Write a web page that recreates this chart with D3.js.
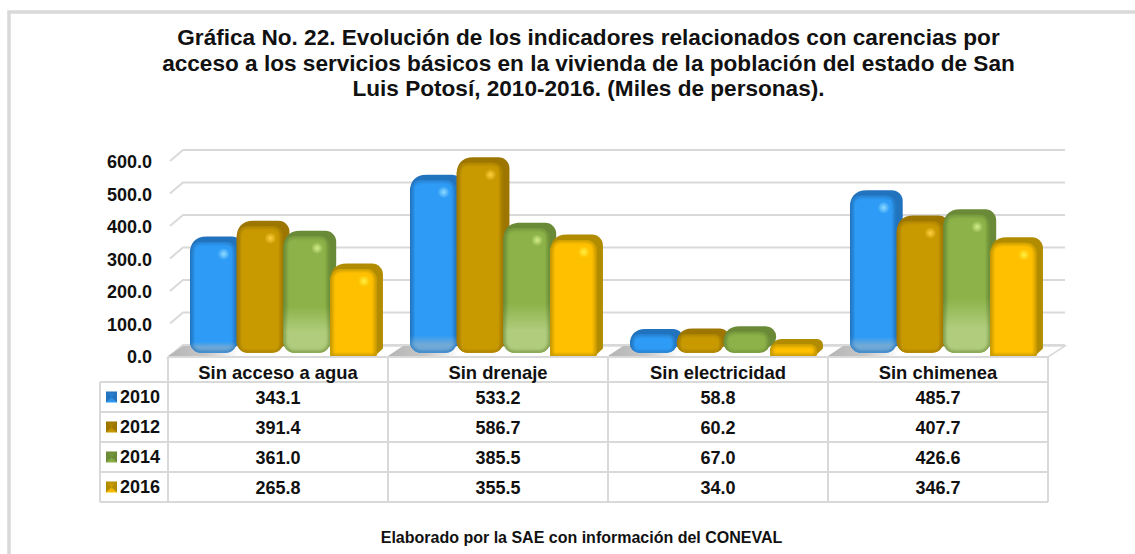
<!DOCTYPE html>
<html>
<head>
<meta charset="utf-8">
<style>
  html, body { margin: 0; padding: 0; background: #fff; }
  svg { display: block; }
  text { font-family: "Liberation Sans", Arial, sans-serif; font-weight: bold; fill: #111; }
</style>
</head>
<body>
<div id="chart"></div>
<script src="https://cdn.jsdelivr.net/npm/d3@7"></script>
<script>
var categories = ["Sin acceso a agua", "Sin drenaje", "Sin electricidad", "Sin chimenea"];
var years = ["2010", "2012", "2014", "2016"];
var values2010 = [343.1, 533.2, 58.8, 485.7];
var values2012 = [391.4, 586.7, 60.2, 407.7];
var values2014 = [361.0, 385.5, 67.0, 426.6];
var values2016 = [265.8, 355.5, 34.0, 346.7];
var yTicks = [0, 100, 200, 300, 400, 500, 600];
var titleLines = [
  "Gráfica No. 22. Evolución de los indicadores relacionados con carencias por",
  "acceso a los servicios básicos en la vivienda de la población del estado de San",
  "Luis Potosí, 2010-2016. (Miles de personas)."
];
var footer = "Elaborado por la SAE con información del CONEVAL";

var series = [values2010, values2012, values2014, values2016];

var palette = [
  {edge: "#2278c4", main: "#2f9cf6", side: "#2473bd", low: "#6fa9d6", spot: "#8fdcff"},
  {edge: "#a67c00", main: "#c99a00", side: "#9c7600", low: "#c99a00", spot: "#ffd040"},
  {edge: "#6f9238", main: "#8cb248", side: "#6b8a37", low: "#b0cc7c", spot: "#d4ee8c"},
  {edge: "#e8ae00", main: "#ffc000", side: "#b18c00", low: "#ffc000", spot: "#fff040"}
];

var width = 1135, height = 554;
var grid = "#d9d9d9";

var svg = d3.select("#chart").append("svg")
  .attr("width", width)
  .attr("height", height);

var defs = svg.append("defs");
defs.append("filter").attr("id", "soft")
  .attr("x", "-10%").attr("y", "-10%").attr("width", "120%").attr("height", "120%")
  .append("feGaussianBlur").attr("stdDeviation", 0.55);
defs.append("filter").attr("id", "bevel")
  .attr("x", "-20%").attr("y", "-20%").attr("width", "140%").attr("height", "140%")
  .append("feGaussianBlur").attr("stdDeviation", 1.6);

palette.forEach(function(p, i) {
  var g = defs.append("linearGradient").attr("id", "face" + i);
  [[0, p.edge], [0.12, p.main], [0.55, p.main], [0.88, p.main], [1, p.edge]].forEach(function(s) {
    g.append("stop").attr("offset", s[0]).attr("stop-color", s[1]);
  });
  var lo = defs.append("linearGradient").attr("id", "lower" + i)
    .attr("x1", 0).attr("x2", 0).attr("y1", 0).attr("y2", 1);
  lo.append("stop").attr("offset", i == 2 ? 0.6 : 0.9).attr("stop-color", p.low).attr("stop-opacity", 0);
  lo.append("stop").attr("offset", i == 2 ? 0.82 : 0.95).attr("stop-color", p.low).attr("stop-opacity", 1);
  lo.append("stop").attr("offset", 1).attr("stop-color", p.low).attr("stop-opacity", 1);
  var sp = defs.append("radialGradient").attr("id", "spot" + i);
  sp.append("stop").attr("offset", 0).attr("stop-color", p.spot).attr("stop-opacity", 1);
  sp.append("stop").attr("offset", 1).attr("stop-color", p.spot).attr("stop-opacity", 0);
  var k = defs.append("linearGradient").attr("id", "key" + i)
    .attr("x1", 0).attr("x2", 0).attr("y1", 0).attr("y2", 1);
  k.append("stop").attr("offset", 0).attr("stop-color", p.side);
  k.append("stop").attr("offset", 1).attr("stop-color", p.main);
});
var fl = defs.append("linearGradient").attr("id", "floorShade");
fl.append("stop").attr("offset", 0).attr("stop-color", "#b4b4b4");
fl.append("stop").attr("offset", 0.55).attr("stop-color", "#c8c8c8");
fl.append("stop").attr("offset", 1).attr("stop-color", "#fff");

// frame
svg.append("path")
  .attr("d", "M9,554V12H1135")
  .attr("fill", "none")
  .attr("stroke", grid)
  .attr("stroke-width", 3.5);

// title + footer
svg.append("g").selectAll("text")
  .data(titleLines).enter().append("text")
  .attr("x", 588.5)
  .attr("y", function(d, i) { return 45 + i * 25.5; })
  .attr("text-anchor", "middle")
  .style("font-size", "22.6px")
  .text(function(d) { return d; });

svg.append("text")
  .attr("x", 581.5).attr("y", 543)
  .attr("text-anchor", "middle")
  .style("font-size", "16px")
  .text(footer);

// scales
var yBack = d3.scaleLinear().domain([0, 600]).range([345, 150]);
var yFront = d3.scaleLinear().domain([0, 600]).range([357, 162]);
var yBar = d3.scaleLinear().domain([0, 600]).range([353.5, 158.5]);
var x0 = d3.scaleBand().domain(categories).range([168, 1048]);
var x1 = d3.scaleBand().domain(years).range([22, 209]);

// walls / gridlines
svg.append("g").selectAll("path")
  .data(yTicks).enter().append("path")
  .attr("d", function(d) {
    return "M" + 170 + "," + (yFront(d) - 1) + "L183," + yBack(d) + "H1065";
  })
  .attr("fill", "none")
  .attr("stroke", grid)
  .attr("stroke-width", 2);

// floor
svg.append("path")
  .attr("d", "M168,357L183,346H1065L1048,357Z")
  .attr("fill", "#fff")
  .attr("stroke", grid)
  .attr("stroke-width", 1.5);

svg.append("g").selectAll("path")
  .data(categories).enter().append("path")
  .attr("d", function(d) {
    var a = x0(d);
    return "M" + a + ",356L" + (a + 15) + ",346H" + (a + 70) + "V356Z";
  })
  .attr("fill", "url(#floorShade)");

// y axis labels
var yAxis = svg.append("g")
  .attr("transform", "translate(152,0)")
  .call(d3.axisLeft(yFront).tickValues(yTicks).tickSize(0).tickPadding(0).tickFormat(d3.format(".1f")));
yAxis.select(".domain").remove();
yAxis.selectAll("text")
  .style("font-size", "18px")
  .style("font-family", "'Liberation Sans', Arial, sans-serif")
  .style("font-weight", "bold")
  .attr("fill", "#111");

// bars
var dx = 6, dy = 5.5, bw = 46.7;
var bars = svg.append("g").attr("filter", "url(#soft)");

function barPath(x, y, w, bottom, r, square) {
  var rb = square ? 1.5 : r;
  return "M" + (x + r) + "," + y +
    "H" + (x + w - r) + "A" + r + "," + r + " 0 0 1 " + (x + w) + "," + (y + r) +
    "V" + (bottom - rb) + "A" + rb + "," + rb + " 0 0 1 " + (x + w - rb) + "," + bottom +
    "H" + (x + rb) + "A" + rb + "," + rb + " 0 0 1 " + x + "," + (bottom - rb) +
    "V" + (y + r) + "A" + r + "," + r + " 0 0 1 " + (x + r) + "," + y + "Z";
}

function backPath(x, y, w, bottom, r, square) {
  var top = "M" + x + "," + (y + r) +
    "C" + x + "," + (y + r * 0.2) + " " + (x + dx * 0.7) + "," + (y - dy) + " " + (x + r + dx) + "," + (y - dy) +
    "H" + (x + w + dx - r) +
    "A" + r + "," + r + " 0 0 1 " + (x + w + dx) + "," + (y - dy + r);
  if (square) {
    return top + "V" + (bottom - dy - 2) + "L" + (x + w - 2) + "," + bottom + "H" + x + "Z";
  }
  return top + "V" + (bottom - dy - r) +
    "A" + r + "," + r + " 0 0 1 " + (x + w + dx - r) + "," + (bottom - dy) +
    "L" + (x + w - r) + "," + bottom +
    "H" + (x + r) + "A" + r + "," + r + " 0 0 1 " + x + "," + (bottom - r) + "Z";
}

categories.forEach(function(cat, c) {
  series.forEach(function(vals, s) {
    var square = s == 3;
    var x = x0(cat) + x1(years[s]);
    var bottom = square ? 356 : yBar(0) - 0.7;
    var y = square ? yBar(vals[c]) + 2 : yBar(vals[c]);
    var h = bottom - y;
    var r = Math.min(11, h / 2);
    var clipId = "clip" + c + "_" + s;
    var g = bars.append("g");

    defs.append("clipPath").attr("id", clipId)
      .append("path").attr("d", barPath(x, y, bw, bottom, r, square));

    g.append("path")
      .attr("d", backPath(x, y, bw, bottom, r, square))
      .attr("fill", palette[s].side);

    g.append("path")
      .attr("d", barPath(x, y, bw, bottom, r, square))
      .attr("fill", "url(#face" + s + ")");

    if (h > 100 && s != 1 && s != 3) {
      g.append("path")
        .attr("d", barPath(x, y, bw, bottom, r, square))
        .attr("fill", "url(#lower" + s + ")");
    }

    // soft inner rim, clipped to the front face
    g.append("g").attr("clip-path", "url(#" + clipId + ")")
      .append("path")
      .attr("d", barPath(x, y, bw, bottom, r, square))
      .attr("fill", "none")
      .attr("stroke", palette[s].side)
      .attr("stroke-opacity", 0.7)
      .attr("stroke-width", 4)
      .attr("filter", "url(#bevel)");

    if (h > 30) {
      g.append("circle")
        .attr("cx", x + bw - 13)
        .attr("cy", y + 12)
        .attr("r", 6)
        .attr("fill", "url(#spot" + s + ")");
    }
  });
});

// data table
var rowY = d3.scaleBand().domain(years).range([382, 502]);
var lines = svg.append("g")
  .attr("fill", "none")
  .attr("stroke", grid)
  .attr("stroke-width", 2);

lines.append("path").attr("d", "M168,357H1048");
rowY.domain().concat(["end"]).forEach(function(yr) {
  var ly = yr == "end" ? 502 : rowY(yr);
  lines.append("path").attr("d", "M100," + ly + "H1048");
});
lines.append("path").attr("d", "M100,382V502");
categories.concat(["end"]).forEach(function(cat) {
  var lx = cat == "end" ? 1048 : x0(cat);
  lines.append("path").attr("d", "M" + lx + ",357V502");
});

svg.append("g").selectAll("text")
  .data(categories).enter().append("text")
  .attr("x", function(d) { return x0(d) + x0.bandwidth() / 2; })
  .attr("y", 379)
  .attr("text-anchor", "middle")
  .style("font-size", "18.4px")
  .text(function(d) { return d; });

years.forEach(function(yr, s) {
  var row = svg.append("g");
  var cy = rowY(yr) + rowY.bandwidth() / 2;

  row.append("rect")
    .attr("x", 106).attr("y", cy - 5.5)
    .attr("width", 11).attr("height", 11)
    .attr("fill", "url(#key" + s + ")");
  row.append("path")
    .attr("d", "M106," + (cy - 5.5) + "L111.5," + cy + "L106," + (cy + 5.5) + "Z M117," + (cy - 5.5) + "L111.5," + cy + "L117," + (cy + 5.5) + "Z")
    .attr("fill", palette[s].side);

  row.append("text")
    .attr("x", 120).attr("y", cy + 6.3)
    .style("font-size", "18px")
    .text(yr);

  row.selectAll(".val")
    .data(series[s]).enter().append("text")
    .attr("class", "val")
    .attr("x", function(d, i) { return x0(categories[i]) + x0.bandwidth() / 2; })
    .attr("y", cy + 6.5)
    .attr("text-anchor", "middle")
    .style("font-size", "18px")
    .text(function(d) { return d.toFixed(1); });
});
</script>
</body>
</html>
